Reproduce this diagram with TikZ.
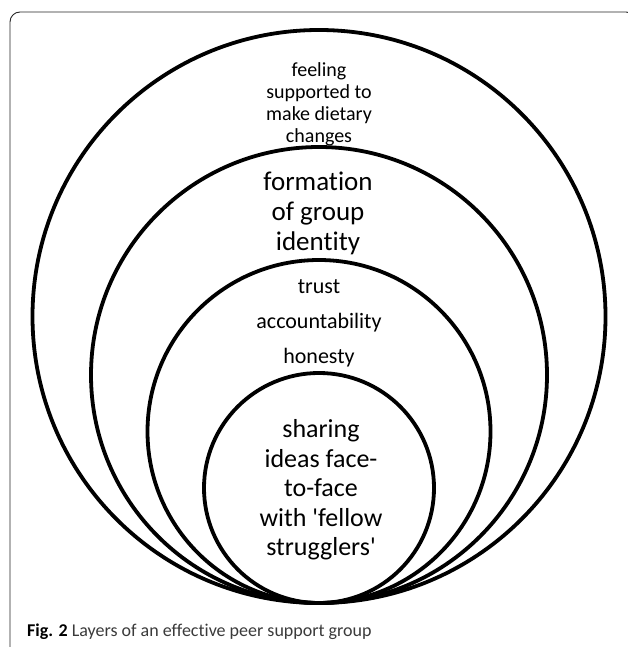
\documentclass[tikz,border=0pt]{standalone}
\usepackage{fontspec}
\setmainfont{Carlito}
\newfontfamily\labelfont{Carlito}[Ligatures=NoCommon]
\usepackage{tikz}
\usetikzlibrary{calc}
\newcommand{\ringcolor}{black}
\newcommand{\ringwidth}{3.8pt}
\definecolor{captiongray}{HTML}{3A3A3A}
\tikzset{
  ring/.style={draw=\ringcolor, line width=\ringwidth},
  layertext/.style={align=center, inner sep=0pt},
}

\begin{document}
\begin{tikzpicture}[x=1pt,y=-1pt]
\useasboundingbox (0,0) rectangle (627,647);
% frame
\draw[black!85, line width=0.9pt, rounded corners=10] (10,660) -- (10,12) -- (636,12) -- (636,660);
% rings, all touching at the bottom
\coordinate (base) at (319,603);
\draw[ring] ($(base)+(0,-286.5)$) circle (286.5);
\draw[ring] ($(base)+(0,-228)$) circle (228);
\draw[ring] ($(base)+(0,-171.5)$) circle (171.5);
\draw[ring] ($(base)+(0,-115)$) circle (115);
% labels
\node[layertext, font=\labelfont\fontsize{20}{22}\selectfont] (support) at (319,104) {feeling\\supported to\\make dietary\\changes};
\node[layertext, font=\labelfont\fontsize{27}{30}\selectfont] (identity) at (318,213) {formation\\of group\\identity};
\node[layertext, font=\labelfont\fontsize{22}{35}\selectfont] (trust) at (319,323) {trust\\accountability\\honesty};
\node[layertext, font=\labelfont\fontsize{26}{29.5}\selectfont] (sharing) at (321,490) {sharing\\ideas face-\\to-face\\with 'fellow\\strugglers'};
% caption
\node[anchor=west, inner sep=0pt, text=captiongray, font=\labelfont\fontsize{18}{20}\selectfont] (caption) at (27,632) {\textbf{\color{black}Fig. 2} Layers of an effective peer support group};
\end{tikzpicture}
\end{document}
